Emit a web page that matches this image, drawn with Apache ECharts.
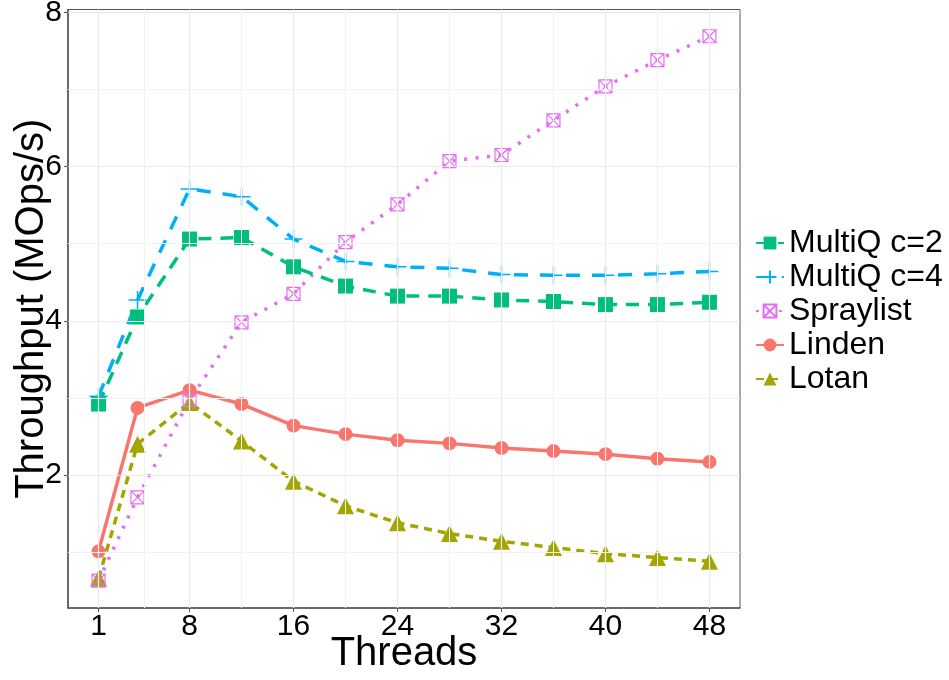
<!DOCTYPE html>
<html>
<head>
<meta charset="utf-8">
<script src="https://cdn.jsdelivr.net/npm/echarts@6/dist/echarts.min.js"></script>
<style>
html,body{margin:0;padding:0;background:#fff;}
#chart{width:949px;height:680px;}
</style>
</head>
<body>
<div id="chart"></div>
<script>
// ---- data ----
const threads = [1, 4, 8, 12, 16, 20, 24, 28, 32, 36, 40, 44, 48];
const multiqC2  = [2.92, 4.05, 5.06, 5.08, 4.70, 4.45, 4.32, 4.32, 4.27, 4.25, 4.21, 4.21, 4.24];
const multiqC4  = [3.02, 4.27, 5.71, 5.61, 5.06, 4.77, 4.70, 4.68, 4.60, 4.59, 4.59, 4.61, 4.64];
const spraylist = [0.63, 1.71, 2.97, 3.98, 4.35, 5.02, 5.51, 6.07, 6.15, 6.60, 7.04, 7.38, 7.69];
const linden    = [1.01, 2.87, 3.10, 2.92, 2.64, 2.53, 2.45, 2.41, 2.35, 2.31, 2.27, 2.21, 2.17];
const lotan     = [0.66, 2.40, 2.94, 2.44, 1.92, 1.60, 1.38, 1.24, 1.14, 1.06, 0.98, 0.93, 0.88];
const xTicks = [1, 8, 16, 24, 32, 40, 48];
const xMinorGrid = [4.5, 12, 20, 28, 36, 44];
const yTicks = [2, 4, 6, 8];
const yMinorGrid = [1, 3, 5, 7];
const seriesNames = ['MultiQ c=2', 'MultiQ c=4', 'Spraylist', 'Linden', 'Lotan'];

const pair = arr => threads.map((t, i) => [t, arr[i]]);

const boxX = 'path://M0,0L10,0L10,10L0,10Z M0,0L10,10 M10,0L0,10';
const plus = 'path://M5,0L5,10 M0,5L10,5';

const gridColor = '#ebebeb';
const gridLines = [];
xTicks.forEach(v => gridLines.push({xAxis: v, lineStyle: {color: gridColor, width: 1.2, type: 'solid'}}));
xMinorGrid.forEach(v => gridLines.push({xAxis: v, lineStyle: {color: '#f2f2f2', width: 1, type: 'solid'}}));
yTicks.forEach(v => gridLines.push({yAxis: v, lineStyle: {color: gridColor, width: 1.2, type: 'solid'}}));
yMinorGrid.forEach(v => gridLines.push({yAxis: v, lineStyle: {color: '#f2f2f2', width: 1, type: 'solid'}}));

const chart = echarts.init(document.getElementById('chart'), null, {renderer: 'canvas'});
chart.setOption({
  backgroundColor: '#ffffff',
  animation: false,
  grid: {left: 68, right: 209, top: 9.5, bottom: 72, show: true, borderColor: '#555', borderWidth: 1,
         backgroundColor: 'transparent', containLabel: false, outerBoundsMode: 'none'},
  legend: {
    data: seriesNames,
    orient: 'vertical',
    left: 755, top: 226,
    padding: 0,
    itemGap: 0,
    itemWidth: 28,
    itemHeight: 16,
    textStyle: {fontFamily: 'Liberation Sans', fontSize: 32, color: '#000', lineHeight: 34}
  },
  xAxis: {
    type: 'value',
    min: -1.35, max: 50.35,
    name: 'Threads',
    nameLocation: 'middle',
    nameGap: 26,
    nameMoveOverlap: false,
    nameTextStyle: {fontFamily: 'Liberation Sans', fontSize: 40, color: '#000'},
    axisLine: {show: true, onZero: false, lineStyle: {color: '#555', width: 1.5}},
    axisTick: {show: true, customValues: xTicks, length: 4, lineStyle: {color: '#555'}},
    axisLabel: {customValues: xTicks, fontFamily: 'Liberation Sans', fontSize: 30, color: '#000', margin: 4},
    splitLine: {show: false}
  },
  yAxis: {
    type: 'value',
    min: 0.275, max: 8.037,
    name: 'Throughput (MOps/s)',
    nameLocation: 'middle',
    nameGap: 16,
    nameMoveOverlap: false,
    nameTextStyle: {fontFamily: 'Liberation Sans', fontSize: 40, color: '#000'},
    axisLine: {show: true, onZero: false, lineStyle: {color: '#555', width: 1.5}},
    axisTick: {show: true, customValues: yTicks, length: 4, lineStyle: {color: '#555'}},
    axisLabel: {customValues: yTicks, fontFamily: 'Liberation Sans', fontSize: 30, color: '#000', margin: 6},
    splitLine: {show: false}
  },
  series: [
    {
      name: '__grid', type: 'line', data: [], z: 1, silent: true,
      markLine: {silent: true, symbol: ['none', 'none'], label: {show: false}, animation: false, data: gridLines}
    },
    {
      name: 'Lotan', type: 'line', data: pair(lotan), z: 3,
      symbol: 'triangle', symbolSize: 17,
      itemStyle: {color: '#A3A500'},
      lineStyle: {color: '#A3A500', width: 3.5, type: [8, 6]}
    },
    {
      name: 'Linden', type: 'line', data: pair(linden), z: 3,
      symbol: 'circle', symbolSize: 14,
      itemStyle: {color: '#F8766D'},
      lineStyle: {color: '#F8766D', width: 3.5, type: 'solid'}
    },
    {
      name: 'Spraylist', type: 'line', data: pair(spraylist), z: 3,
      symbol: boxX, symbolSize: 13,
      itemStyle: {color: 'rgba(0,0,0,0)', borderColor: '#E76BF3', borderWidth: 1.2},
      lineStyle: {color: '#E76BF3', width: 3.5, type: [3, 8.5]}
    },
    {
      name: 'MultiQ c=4', type: 'line', data: pair(multiqC4), z: 3,
      symbol: plus, symbolSize: 18,
      itemStyle: {color: 'rgba(0,0,0,0)', borderColor: '#00B0F6', borderWidth: 1.5},
      lineStyle: {color: '#00B0F6', width: 3.5, type: [14, 12]}
    },
    {
      name: 'MultiQ c=2', type: 'line', data: pair(multiqC2), z: 3,
      symbol: 'rect', symbolSize: 15,
      itemStyle: {color: '#00BF7D'},
      lineStyle: {color: '#00BF7D', width: 3.5, type: [13, 9]}
    }
  ]
});
</script>
</body>
</html>
